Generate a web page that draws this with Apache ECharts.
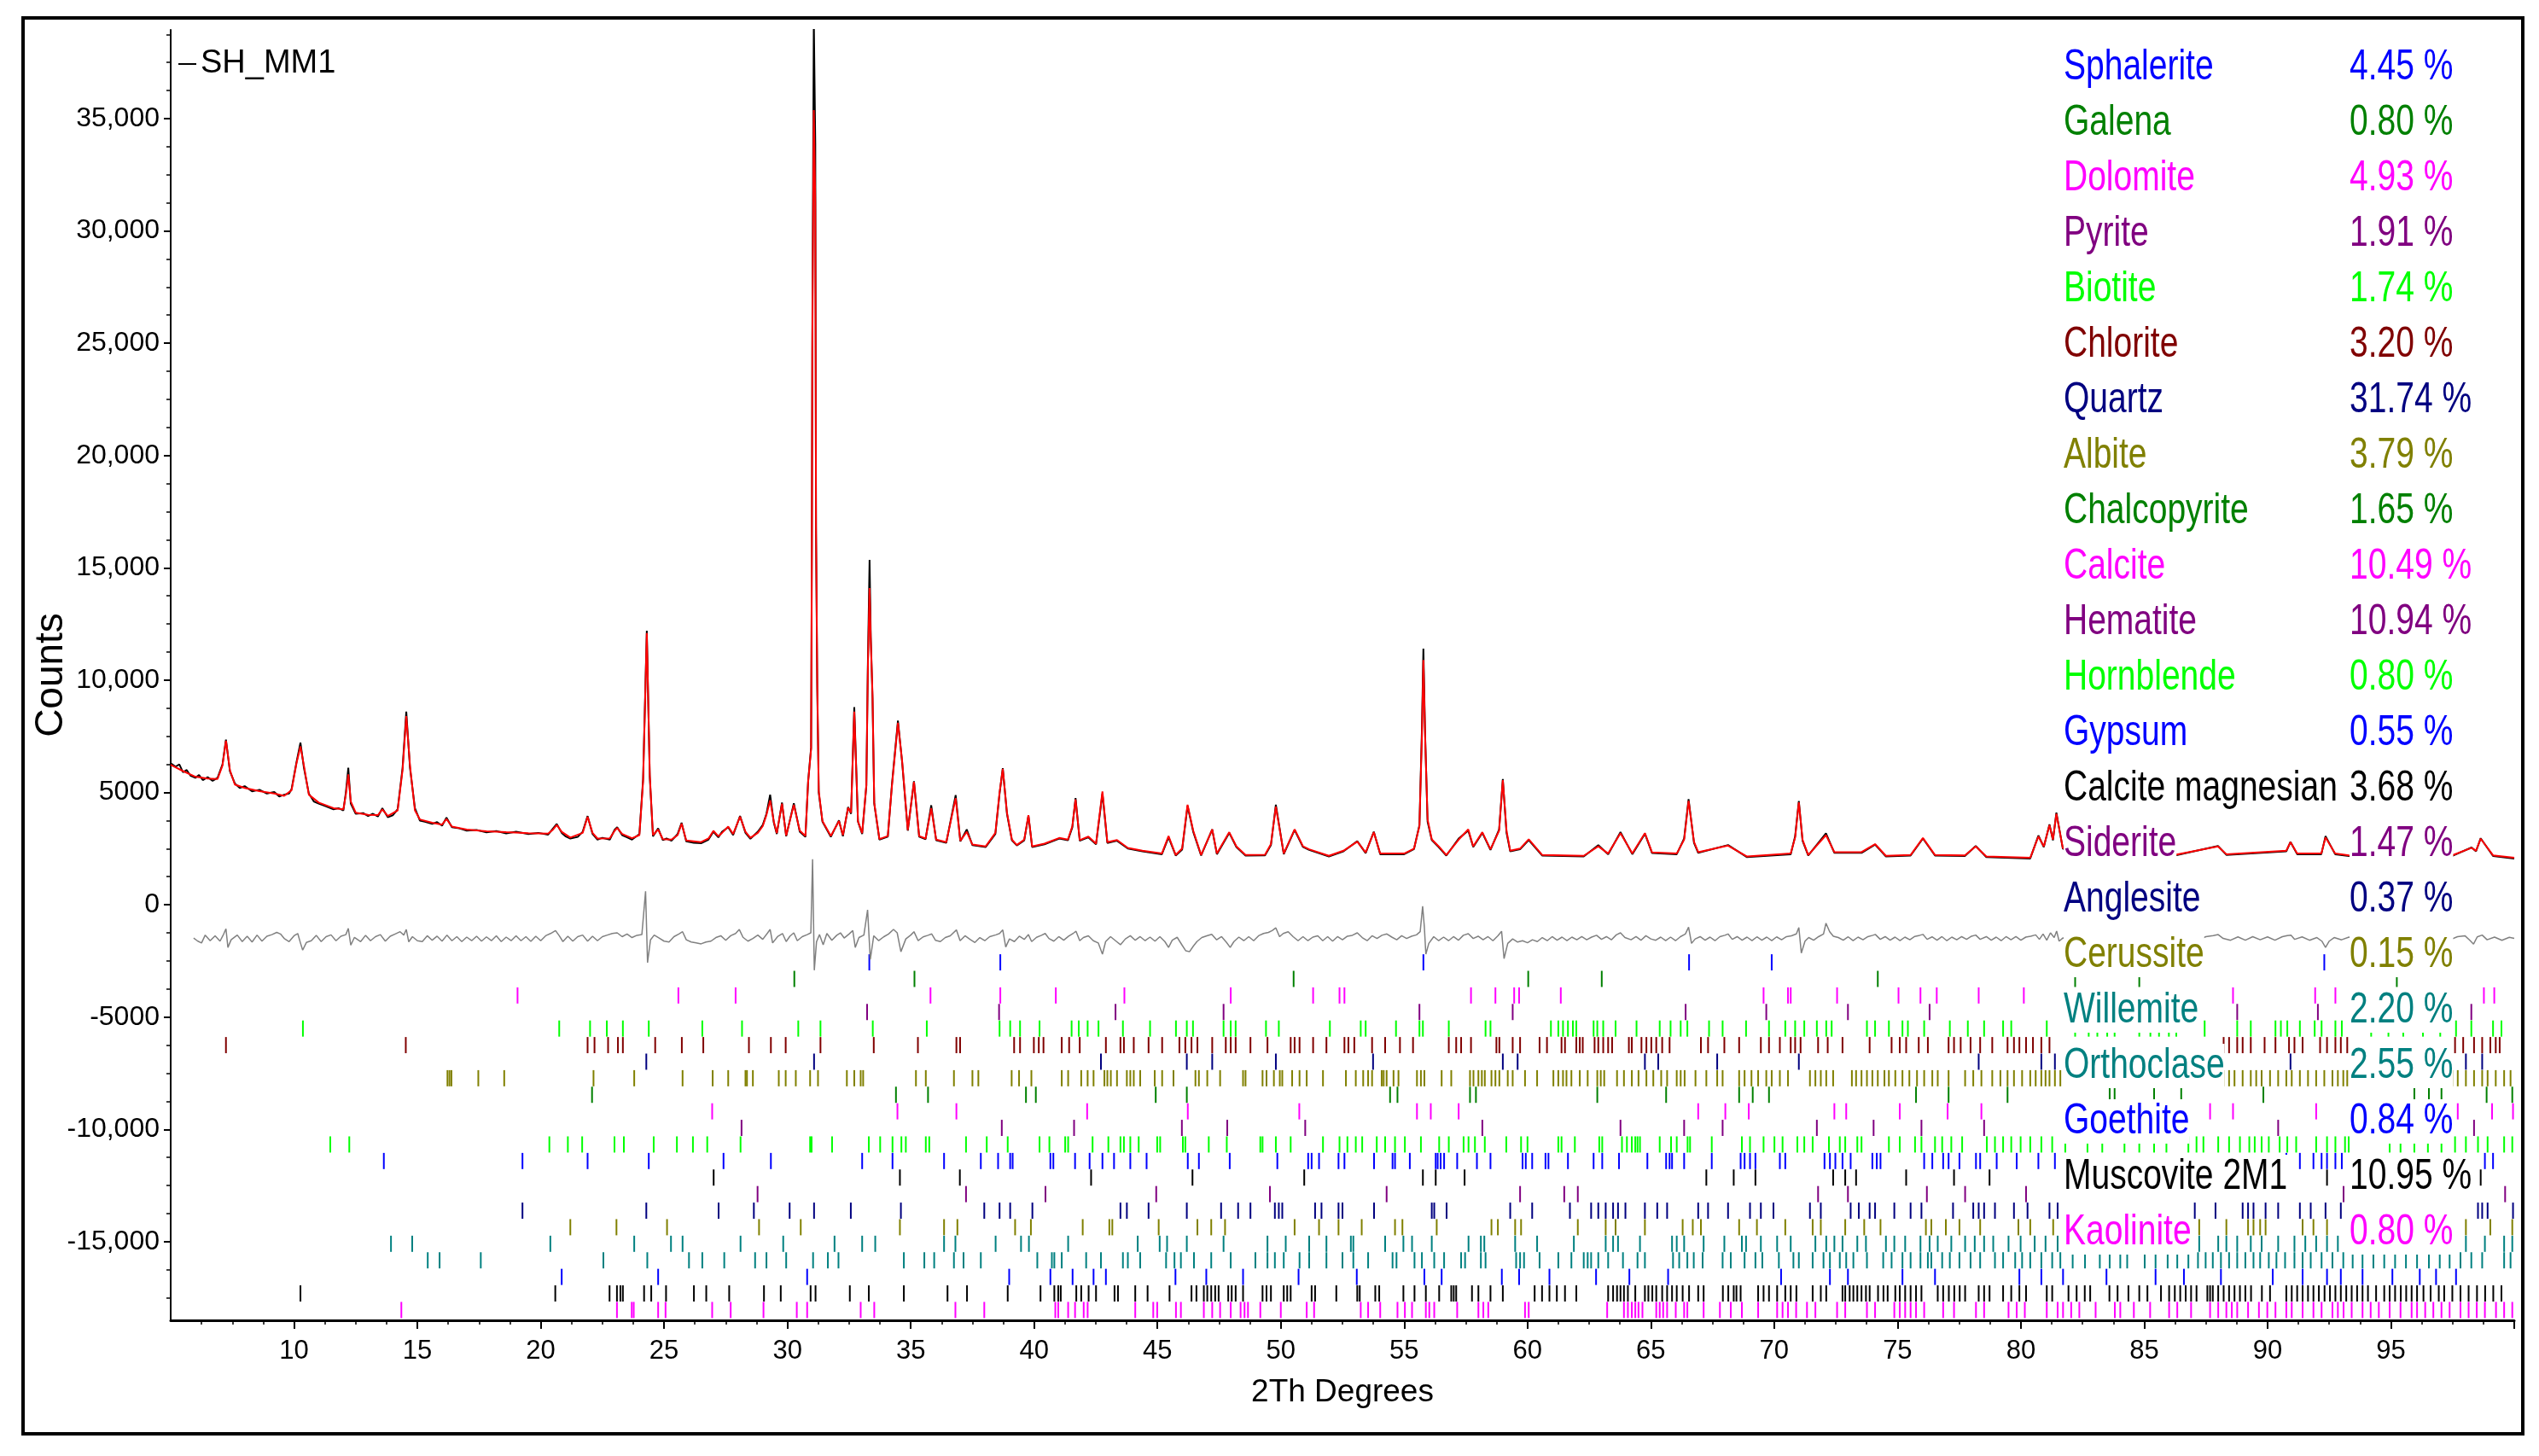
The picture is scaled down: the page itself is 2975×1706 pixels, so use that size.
<!DOCTYPE html>
<html><head><meta charset="utf-8">
<script src="https://cdn.jsdelivr.net/npm/echarts@6.0.0/dist/echarts.min.js"></script>
<style>html,body{margin:0;padding:0;background:#fff}#chart{width:2975px;height:1706px}</style>
</head><body><div id="chart"></div>
<script>
// ---------------- DATA ----------------
const sampleName = 'SH_MM1';
const xTickLabels = [10,15,20,25,30,35,40,45,50,55,60,65,70,75,80,85,90,95];
const xMajorTicks = [10,15,20,25,30,35,40,45,50,55,60,65,70,75,80,85,90,95,100];
const xMinorTicks = [6.25,7.5,8.75,11.25,12.5,13.75,16.25,17.5,18.75,21.25,22.5,23.75,26.25,27.5,28.75,31.25,32.5,33.75,36.25,37.5,38.75,41.25,42.5,43.75,46.25,47.5,48.75,51.25,52.5,53.75,56.25,57.5,58.75,61.25,62.5,63.75,66.25,67.5,68.75,71.25,72.5,73.75,76.25,77.5,78.75,81.25,82.5,83.75,86.25,87.5,88.75,91.25,92.5,93.75,96.25,97.5,98.75];
const yTickValues = [-15000,-10000,-5000,0,5000,10000,15000,20000,25000,30000,35000];
const yTickLabels = ['-15,000','-10,000','-5000','0','5000','10,000','15,000','20,000','25,000','30,000','35,000'];
const yMinorTicks = [-17500,-16250,-13750,-12500,-11250,-8750,-7500,-6250,-3750,-2500,-1250,1250,2500,3750,6250,7500,8750,11250,12500,13750,16250,17500,18750,21250,22500,23750,26250,27500,28750,31250,32500,33750,36250,37500,38750];

const phaseNames = ['Sphalerite','Galena','Dolomite','Pyrite','Biotite','Chlorite','Quartz','Albite','Chalcopyrite','Calcite','Hematite','Hornblende','Gypsum','Calcite magnesian','Siderite','Anglesite','Cerussite','Willemite','Orthoclase','Goethite','Muscovite 2M1','Kaolinite'];
const phasePercents = ['4.45 %','0.80 %','4.93 %','1.91 %','1.74 %','3.20 %','31.74 %','3.79 %','1.65 %','10.49 %','10.94 %','0.80 %','0.55 %','3.68 %','1.47 %','0.37 %','0.15 %','2.20 %','2.55 %','0.84 %','10.95 %','0.80 %'];
const phaseColors = ['#0000ff','#008000','#ff00ff','#800080','#00ff00','#800000','#000080','#808000','#008000','#ff00ff','#800080','#00ff00','#0000ff','#000000','#800080','#000080','#808000','#008080','#008080','#0000ff','#000000','#ff00ff'];

// calculated (red) pattern
const calcCurve = [[5.0,6230],[5.5,5950],[6.0,5700],[6.5,5620],[6.9,5600],[7.1,6200],[7.24,7300],[7.4,6000],[7.6,5350],[8.0,5200],[8.6,5060],[9.2,4950],[9.6,4850],[9.9,5100],[10.1,6300],[10.26,7050],[10.4,6200],[10.6,4900],[11.0,4550],[11.6,4300],[12.0,4250],[12.1,4900],[12.2,5800],[12.3,4600],[12.5,4100],[13.0,4000],[13.4,3990],[13.58,4250],[13.8,3950],[14.2,4200],[14.4,6000],[14.55,8400],[14.7,6200],[14.9,4200],[15.1,3800],[15.6,3650],[16.0,3570],[16.18,3820],[16.4,3480],[17.0,3350],[17.8,3270],[18.6,3230],[19.5,3190],[20.3,3170],[20.5,3350],[20.65,3550],[20.85,3250],[21.2,2990],[21.7,3200],[21.9,3920],[22.1,3200],[22.3,2950],[22.8,2960],[23.0,3300],[23.1,3420],[23.3,3150],[23.7,2960],[24.0,3100],[24.15,5500],[24.3,12100],[24.42,5800],[24.55,3100],[24.76,3350],[24.95,2920],[25.3,2900],[25.55,3100],[25.71,3610],[25.9,2860],[26.5,2790],[26.8,2950],[27.0,3290],[27.2,3050],[27.35,3200],[27.6,3480],[27.8,3150],[28.08,3920],[28.3,3250],[28.5,2980],[28.8,3200],[29.0,3500],[29.15,4000],[29.3,4650],[29.45,3700],[29.57,3190],[29.78,4500],[29.95,3080],[30.26,4450],[30.5,3300],[30.73,3060],[30.84,5470],[30.96,6930],[30.99,15480],[31.01,24830],[31.07,35380],[31.13,31240],[31.16,16815],[31.21,9880],[31.27,5060],[31.42,3725],[31.76,3060],[32.09,3725],[32.25,3100],[32.46,4320],[32.58,4100],[32.71,8600],[32.86,3725],[33.03,3190],[33.2,5330],[33.26,10400],[33.33,14100],[33.38,11740],[33.45,9350],[33.52,4530],[33.73,2925],[34.07,3060],[34.24,5330],[34.48,8100],[34.65,6400],[34.88,3325],[35.13,5470],[35.34,3060],[35.6,2950],[35.83,4300],[36.03,2900],[36.44,2790],[36.82,4750],[37.01,2850],[37.27,3250],[37.5,2680],[38.04,2600],[38.43,3200],[38.6,5000],[38.73,6050],[38.9,4100],[39.1,2900],[39.3,2660],[39.6,2900],[39.77,3990],[39.92,2600],[40.42,2720],[41.02,2975],[41.37,2900],[41.55,3500],[41.68,4690],[41.85,2880],[42.2,3035],[42.51,2720],[42.77,5040],[42.97,2785],[43.36,2880],[43.8,2530],[44.39,2405],[45.18,2280],[45.45,3060],[45.74,2215],[46.0,2500],[46.22,4450],[46.45,3300],[46.77,2215],[47.22,3355],[47.41,2280],[47.91,3230],[48.2,2600],[48.57,2215],[49.36,2230],[49.6,2700],[49.8,4370],[50.12,2280],[50.56,3355],[50.9,2600],[51.15,2470],[51.95,2180],[52.54,2405],[53.1,2810],[53.44,2330],[53.77,3230],[54.03,2280],[55.0,2280],[55.4,2500],[55.62,3500],[55.72,7500],[55.78,10900],[55.85,7500],[55.95,3800],[56.12,2913],[56.4,2600],[56.71,2215],[57.21,2900],[57.6,3355],[57.8,2600],[58.17,3230],[58.5,2470],[58.85,3300],[59.0,5545],[59.15,3300],[59.3,2405],[59.7,2500],[60.05,2913],[60.6,2215],[62.28,2180],[62.87,2600],[63.27,2280],[63.77,3190],[64.25,2280],[64.76,3190],[65.05,2330],[66.05,2280],[66.35,2900],[66.53,4625],[66.75,2800],[66.92,2343],[68.13,2635],[68.9,2150],[70.67,2280],[70.85,3000],[71.0,4560],[71.15,2900],[71.38,2215],[72.1,3100],[72.44,2343],[73.54,2343],[74.09,2700],[74.53,2180],[75.53,2215],[76.03,2975],[76.52,2215],[77.73,2200],[78.17,2600],[78.6,2150],[80.38,2090],[80.71,3040],[80.93,2600],[81.16,3545],[81.3,2900],[81.44,4053],[81.7,2533],[82.5,2250],[84.0,2200],[86.23,2215],[87.99,2600],[88.33,2250],[90.76,2405],[90.93,2786],[91.2,2280],[92.18,2280],[92.35,3000],[92.74,2280],[93.3,2200],[95.0,2180],[97.37,2150],[98.27,2533],[98.45,2400],[98.64,2940],[99.14,2200],[100.0,2090]];

// observed (black) pattern
const obsCurve = [[5.0,6300],[5.2,6150],[5.35,6250],[5.5,5900],[5.65,6000],[5.8,5750],[6.0,5650],[6.15,5780],[6.3,5550],[6.5,5680],[6.7,5520],[6.9,5650],[7.1,6250],[7.24,7350],[7.4,5950],[7.6,5400],[7.8,5200],[8.0,5280],[8.3,5050],[8.6,5120],[8.9,4950],[9.2,5020],[9.4,4820],[9.6,4900],[9.8,4950],[9.9,5150],[10.1,6350],[10.26,7220],[10.4,6100],[10.6,4950],[10.8,4600],[11.0,4500],[11.3,4380],[11.6,4250],[11.8,4300],[12.0,4200],[12.1,5000],[12.2,6100],[12.3,4500],[12.5,4050],[12.8,4080],[13.0,3950],[13.2,4050],[13.4,3930],[13.58,4300],[13.8,3900],[14.0,3980],[14.2,4250],[14.4,6100],[14.55,8600],[14.7,6100],[14.9,4300],[15.1,3750],[15.3,3700],[15.6,3600],[15.8,3680],[16.0,3520],[16.18,3880],[16.4,3450],[16.7,3400],[17.0,3300],[17.4,3330],[17.8,3220],[18.2,3280],[18.6,3180],[19.0,3250],[19.5,3150],[19.9,3200],[20.3,3120],[20.5,3400],[20.65,3600],[20.85,3200],[21.0,3050],[21.2,2950],[21.5,3020],[21.7,3250],[21.9,3950],[22.1,3150],[22.3,2900],[22.5,2980],[22.8,2900],[23.0,3350],[23.1,3450],[23.3,3100],[23.5,3000],[23.7,2900],[24.0,3150],[24.15,5600],[24.3,12200],[24.42,5700],[24.55,3050],[24.76,3400],[24.95,2880],[25.1,2950],[25.3,2850],[25.55,3150],[25.71,3650],[25.9,2820],[26.2,2760],[26.5,2740],[26.8,2900],[27.0,3250],[27.2,3000],[27.35,3250],[27.6,3450],[27.8,3100],[28.08,3950],[28.3,3200],[28.5,2940],[28.8,3250],[29.0,3550],[29.15,4050],[29.3,4900],[29.45,3650],[29.57,3150],[29.78,4550],[29.95,3050],[30.26,4520],[30.5,3250],[30.73,3020],[30.84,5500],[30.96,7000],[30.99,15800],[31.01,25500],[31.07,39500],[31.13,33900],[31.16,16500],[31.21,9600],[31.27,5000],[31.42,3700],[31.76,3020],[32.09,3760],[32.25,3050],[32.46,4350],[32.58,4050],[32.71,8800],[32.86,3700],[33.03,3150],[33.2,5300],[33.26,10600],[33.33,15350],[33.38,11900],[33.45,9200],[33.52,4500],[33.73,2900],[34.07,3030],[34.24,5400],[34.48,8200],[34.65,6350],[34.88,3300],[35.13,5500],[35.34,3030],[35.6,2920],[35.83,4430],[36.03,2870],[36.44,2760],[36.82,4880],[37.01,2820],[37.27,3350],[37.5,2650],[38.04,2570],[38.43,3150],[38.6,4950],[38.73,6080],[38.9,4050],[39.1,2870],[39.3,2640],[39.6,2870],[39.77,3960],[39.92,2570],[40.42,2690],[41.02,2950],[41.37,2870],[41.55,3450],[41.68,4750],[41.85,2850],[42.2,3000],[42.51,2690],[42.77,4950],[42.97,2750],[43.36,2850],[43.8,2500],[44.39,2380],[45.18,2250],[45.45,3000],[45.74,2190],[46.0,2450],[46.22,4400],[46.45,3250],[46.77,2190],[47.22,3350],[47.41,2250],[47.91,3200],[48.2,2570],[48.57,2190],[49.36,2200],[49.6,2650],[49.8,4450],[50.12,2250],[50.56,3330],[50.9,2570],[51.15,2440],[51.95,2150],[52.54,2380],[53.1,2830],[53.44,2300],[53.77,3250],[54.03,2250],[55.0,2250],[55.4,2480],[55.62,3550],[55.72,7800],[55.78,11400],[55.85,7600],[55.95,3700],[56.12,2880],[56.4,2570],[56.71,2190],[57.21,2950],[57.6,3300],[57.8,2570],[58.17,3200],[58.5,2440],[58.85,3350],[59.0,5600],[59.15,3200],[59.3,2380],[59.7,2470],[60.05,2880],[60.6,2190],[62.28,2150],[62.87,2650],[63.27,2250],[63.77,3230],[64.25,2250],[64.76,3160],[65.05,2300],[66.05,2250],[66.35,2950],[66.53,4700],[66.75,2750],[66.92,2310],[68.13,2660],[68.9,2120],[70.67,2250],[70.85,3050],[71.0,4620],[71.15,2850],[71.38,2190],[72.1,3180],[72.44,2310],[73.54,2310],[74.09,2680],[74.53,2150],[75.53,2190],[76.03,2950],[76.52,2190],[77.73,2170],[78.17,2620],[78.6,2120],[80.38,2060],[80.71,3080],[80.93,2570],[81.16,3580],[81.3,2870],[81.44,4100],[81.7,2500],[82.5,2220],[84.0,2170],[86.23,2190],[87.99,2620],[88.33,2220],[90.76,2380],[90.93,2800],[91.2,2250],[92.18,2250],[92.35,3050],[92.74,2250],[93.3,2170],[95.0,2150],[97.37,2120],[98.27,2550],[98.45,2380],[98.64,2960],[99.14,2170],[100.0,2060]];

// difference curve (grey), already drawn at its offset
const diffCurve = [[5.93,-1480],[6.1,-1620],[6.25,-1700],[6.4,-1350],[6.6,-1600],[6.8,-1380],[7.0,-1620],[7.15,-1300],[7.24,-1070],[7.32,-1900],[7.45,-1560],[7.7,-1350],[7.9,-1640],[8.1,-1400],[8.3,-1660],[8.5,-1350],[8.7,-1620],[8.9,-1400],[9.1,-1330],[9.3,-1230],[9.45,-1300],[9.6,-1500],[9.8,-1640],[10.0,-1380],[10.15,-1280],[10.26,-1700],[10.35,-2020],[10.5,-1680],[10.7,-1600],[10.9,-1360],[11.1,-1640],[11.3,-1420],[11.5,-1340],[11.7,-1600],[11.9,-1400],[12.1,-1330],[12.2,-1050],[12.3,-1800],[12.45,-1450],[12.7,-1640],[12.9,-1360],[13.1,-1600],[13.3,-1420],[13.5,-1330],[13.7,-1620],[13.9,-1400],[14.1,-1300],[14.3,-1200],[14.45,-1350],[14.55,-1100],[14.65,-1650],[14.8,-1420],[15.0,-1600],[15.2,-1640],[15.4,-1380],[15.6,-1580],[15.8,-1400],[16.0,-1620],[16.2,-1350],[16.4,-1600],[16.6,-1420],[16.8,-1640],[17.0,-1440],[17.2,-1600],[17.4,-1400],[17.6,-1620],[17.8,-1430],[18.0,-1600],[18.2,-1380],[18.4,-1640],[18.6,-1440],[18.8,-1600],[19.0,-1380],[19.2,-1600],[19.4,-1420],[19.6,-1630],[19.8,-1400],[20.0,-1600],[20.2,-1380],[20.4,-1280],[20.6,-1150],[20.75,-1380],[20.9,-1640],[21.1,-1400],[21.3,-1620],[21.5,-1420],[21.7,-1350],[21.9,-1620],[22.1,-1400],[22.3,-1600],[22.5,-1420],[22.7,-1350],[22.9,-1280],[23.1,-1250],[23.3,-1420],[23.5,-1300],[23.7,-1460],[23.9,-1360],[24.1,-1330],[24.25,600],[24.33,-2580],[24.45,-1560],[24.6,-1350],[24.8,-1480],[25.0,-1620],[25.2,-1660],[25.4,-1420],[25.6,-1300],[25.75,-1200],[25.9,-1560],[26.1,-1660],[26.3,-1700],[26.5,-1740],[26.7,-1660],[26.9,-1620],[27.1,-1460],[27.3,-1380],[27.5,-1580],[27.7,-1380],[27.9,-1280],[28.05,-1100],[28.2,-1450],[28.4,-1620],[28.6,-1500],[28.8,-1350],[29.0,-1540],[29.2,-1250],[29.3,-1100],[29.4,-1700],[29.6,-1420],[29.8,-1280],[29.95,-1640],[30.1,-1400],[30.26,-1250],[30.4,-1600],[30.6,-1420],[30.8,-1330],[30.95,-1250],[31.02,2025],[31.09,-2915],[31.18,-1650],[31.3,-1330],[31.45,-1780],[31.6,-1280],[31.8,-1580],[32.0,-1360],[32.15,-1250],[32.3,-1480],[32.5,-1300],[32.65,-1150],[32.75,-1900],[32.9,-1460],[33.1,-1350],[33.25,-228],[33.36,-2430],[33.5,-1380],[33.7,-1600],[33.9,-1430],[34.1,-1300],[34.3,-1100],[34.45,-1250],[34.6,-2090],[34.8,-1520],[35.0,-1350],[35.13,-1200],[35.3,-1600],[35.5,-1430],[35.7,-1360],[35.85,-1300],[36.0,-1580],[36.2,-1640],[36.4,-1460],[36.6,-1380],[36.85,-1120],[37.0,-1600],[37.2,-1380],[37.4,-1540],[37.6,-1680],[37.8,-1460],[38.0,-1600],[38.2,-1420],[38.45,-1340],[38.6,-1280],[38.73,-1120],[38.85,-1880],[39.0,-1520],[39.2,-1640],[39.4,-1400],[39.6,-1540],[39.77,-1330],[39.9,-1640],[40.1,-1450],[40.3,-1360],[40.45,-1280],[40.6,-1500],[40.8,-1620],[41.0,-1420],[41.2,-1580],[41.4,-1400],[41.6,-1260],[41.7,-1180],[41.85,-1600],[42.0,-1460],[42.2,-1380],[42.4,-1600],[42.6,-1700],[42.77,-2200],[42.9,-1640],[43.1,-1420],[43.3,-1600],[43.5,-1780],[43.7,-1520],[43.9,-1380],[44.1,-1580],[44.3,-1420],[44.5,-1600],[44.7,-1440],[44.9,-1620],[45.1,-1420],[45.3,-1640],[45.45,-1900],[45.6,-1580],[45.8,-1450],[46.0,-1800],[46.15,-2050],[46.3,-2090],[46.45,-1850],[46.6,-1640],[46.8,-1460],[47.0,-1380],[47.2,-1320],[47.4,-1560],[47.6,-1420],[47.8,-1680],[47.95,-1900],[48.1,-1640],[48.3,-1440],[48.5,-1600],[48.7,-1420],[48.9,-1600],[49.1,-1380],[49.3,-1280],[49.5,-1230],[49.65,-1150],[49.8,-1030],[49.95,-1420],[50.1,-1280],[50.3,-1200],[50.5,-1420],[50.7,-1600],[50.9,-1420],[51.1,-1600],[51.3,-1440],[51.5,-1380],[51.7,-1600],[51.9,-1420],[52.1,-1620],[52.3,-1420],[52.5,-1560],[52.7,-1400],[52.9,-1360],[53.1,-1250],[53.3,-1460],[53.5,-1600],[53.7,-1380],[53.9,-1500],[54.1,-1360],[54.3,-1300],[54.5,-1440],[54.7,-1560],[54.9,-1380],[55.1,-1500],[55.3,-1400],[55.5,-1340],[55.65,-1200],[55.75,-63],[55.82,-1000],[55.88,-2200],[56.0,-1720],[56.2,-1420],[56.4,-1600],[56.6,-1440],[56.8,-1600],[57.0,-1420],[57.2,-1580],[57.4,-1360],[57.6,-1290],[57.8,-1500],[58.0,-1400],[58.2,-1560],[58.4,-1420],[58.6,-1600],[58.8,-1380],[58.95,-1180],[59.05,-2400],[59.2,-1720],[59.4,-1520],[59.6,-1660],[59.8,-1600],[60.0,-1690],[60.2,-1560],[60.4,-1640],[60.6,-1460],[60.8,-1600],[61.0,-1420],[61.2,-1580],[61.4,-1440],[61.6,-1600],[61.8,-1440],[62.0,-1560],[62.2,-1420],[62.4,-1560],[62.6,-1440],[62.8,-1360],[63.0,-1540],[63.2,-1420],[63.4,-1560],[63.6,-1340],[63.77,-1250],[63.95,-1460],[64.2,-1560],[64.4,-1420],[64.6,-1580],[64.8,-1380],[65.0,-1520],[65.2,-1580],[65.4,-1440],[65.6,-1600],[65.8,-1440],[66.0,-1600],[66.2,-1420],[66.4,-1300],[66.53,-1000],[66.65,-1720],[66.8,-1520],[67.0,-1420],[67.2,-1580],[67.4,-1440],[67.6,-1600],[67.8,-1420],[68.0,-1360],[68.13,-1300],[68.3,-1540],[68.5,-1420],[68.7,-1580],[68.9,-1440],[69.1,-1600],[69.3,-1430],[69.5,-1580],[69.7,-1440],[69.9,-1600],[70.1,-1430],[70.3,-1560],[70.5,-1420],[70.7,-1380],[70.9,-1300],[71.0,-1013],[71.1,-2150],[71.25,-1620],[71.4,-1460],[71.6,-1580],[71.8,-1420],[72.0,-1300],[72.1,-823],[72.25,-1200],[72.4,-1400],[72.6,-1460],[72.8,-1580],[73.0,-1430],[73.2,-1600],[73.4,-1440],[73.6,-1560],[73.8,-1420],[74.0,-1360],[74.1,-1320],[74.3,-1540],[74.5,-1420],[74.7,-1580],[74.9,-1440],[75.1,-1600],[75.3,-1440],[75.5,-1560],[75.7,-1410],[75.9,-1360],[76.03,-1320],[76.2,-1540],[76.4,-1430],[76.6,-1580],[76.8,-1420],[77.0,-1600],[77.2,-1440],[77.4,-1560],[77.6,-1420],[77.8,-1540],[78.0,-1400],[78.17,-1350],[78.35,-1540],[78.6,-1420],[78.8,-1580],[79.0,-1440],[79.2,-1600],[79.4,-1420],[79.6,-1560],[79.8,-1420],[80.0,-1580],[80.2,-1440],[80.4,-1400],[80.6,-1340],[80.75,-1540],[80.9,-1300],[81.05,-1580],[81.2,-1250],[81.35,-1460],[81.45,-1170],[81.55,-1620],[81.7,-1480],[82.0,-1520],[83.0,-1460],[84.0,-1520],[85.0,-1460],[86.0,-1520],[86.3,-1420],[86.6,-1580],[86.9,-1430],[87.2,-1560],[87.5,-1420],[87.8,-1370],[88.0,-1330],[88.2,-1500],[88.5,-1580],[88.8,-1430],[89.1,-1580],[89.4,-1420],[89.7,-1560],[90.0,-1430],[90.3,-1580],[90.6,-1420],[90.8,-1370],[90.95,-1350],[91.1,-1540],[91.4,-1430],[91.7,-1580],[92.0,-1460],[92.2,-1620],[92.35,-1900],[92.5,-1620],[92.7,-1460],[93.0,-1560],[93.3,-1440],[94.0,-1520],[95.0,-1460],[96.0,-1520],[97.0,-1460],[97.4,-1560],[97.7,-1420],[98.0,-1380],[98.2,-1580],[98.35,-1750],[98.5,-1430],[98.7,-1350],[98.9,-1560],[99.2,-1440],[99.5,-1580],[99.8,-1450],[100.0,-1500]];

// reflection positions (2Th) of each phase
const sphaleriteTicks = [33.32,38.63,55.78,66.55,69.9,92.3];
const galenaTicks = [30.28,35.15,50.52,60.03,63.01,74.2,82.2,84.8,95.24];
const dolomiteTicks = [19.06,25.58,27.9,35.8,38.63,40.88,43.66,47.97,51.31,52.38,52.58,57.71,58.7,59.46,59.66,61.35,69.57,70.56,70.67,72.55,75.04,75.93,76.59,78.29,80.12,88.6,91.93,92.75,98.77,99.19];
const pyriteTicks = [33.23,38.58,43.3,47.68,55.62,59.4,66.41,69.68,72.99,76.3,88.77,92.04,98.26];
const biotiteTicks = [10.36,20.75,22.0,22.68,23.33,24.38,26.55,28.16,30.44,31.34,33.46,35.65,38.6,39.03,39.43,40.22,41.52,41.81,42.17,42.61,43.6,44.7,45.75,46.19,46.44,47.68,47.97,48.17,49.4,49.92,51.99,53.24,53.44,54.67,55.62,55.76,56.81,58.3,58.5,60.95,61.25,61.44,61.64,61.84,61.98,62.68,62.83,63.07,63.57,64.42,65.36,65.8,66.21,66.48,67.36,67.91,68.86,69.79,70.45,70.85,71.22,71.73,72.11,72.33,73.76,74.09,74.65,75.2,75.42,76.08,77.12,77.85,78.51,79.28,79.61,81.05,82.2,82.75,83.1,83.5,83.8,84.8,85.25,85.6,86.0,86.3,87.45,88.77,89.32,90.32,90.54,90.8,91.31,91.91,92.19,92.75,93.01,94.2,94.9,95.5,96.3,97.0,97.64,98.26,99.14,99.48];
const chloriteTicks = [7.24,14.53,21.9,22.18,22.73,23.13,23.33,24.64,25.72,26.59,28.44,29.33,29.93,31.34,33.5,35.29,36.85,37.0,39.19,39.43,39.99,40.19,40.38,41.12,41.42,41.85,42.91,43.5,43.64,44.04,44.64,45.19,45.89,46.13,46.38,46.62,47.22,47.77,47.97,48.17,48.77,49.46,50.4,50.56,50.76,51.31,51.85,52.58,52.74,52.98,53.7,54.23,54.83,55.36,56.81,57.11,57.31,57.71,58.74,58.86,59.4,59.7,60.49,60.79,61.38,61.52,61.98,62.12,62.24,62.72,62.87,63.07,63.27,63.43,64.11,64.23,64.62,64.82,65.02,65.22,65.46,65.76,67.03,67.32,67.98,68.58,69.46,69.79,70.23,70.67,70.85,71.07,71.78,72.17,72.77,73.87,74.76,75.09,75.35,75.86,76.23,77.07,77.29,77.56,77.96,78.35,78.84,79.46,79.72,79.94,80.21,80.49,80.83,81.16,88.22,88.44,88.77,88.99,89.32,89.88,90.32,90.87,91.09,91.42,92.13,92.41,92.75,92.97,93.23,97.6,97.93,98.37,98.7,99.03,99.25,99.41];
const quartzTicks = [24.28,31.08,42.71,46.19,47.22,49.8,53.74,59.0,59.6,64.76,65.3,67.69,71.0,78.29,80.83,81.38,90.93,98.04,98.7];
const albiteTicks = [16.22,16.3,16.38,17.47,18.52,22.14,23.79,25.75,26.97,27.6,28.3,28.36,28.6,29.65,29.93,30.34,30.92,31.24,32.41,32.71,32.97,33.07,35.21,35.61,36.75,37.5,37.74,39.09,39.39,39.89,41.12,41.38,41.91,42.17,42.41,42.85,42.97,43.11,43.36,43.76,43.9,44.04,44.3,44.89,45.19,45.65,46.54,46.68,47.02,47.54,48.47,48.57,49.26,49.42,49.72,49.96,50.06,50.46,50.76,51.05,51.71,52.64,53.04,53.34,53.54,53.7,54.09,54.17,54.29,54.57,54.77,55.52,55.68,55.82,56.52,56.91,57.67,57.81,58.01,58.15,58.27,58.54,58.7,58.86,59.2,59.4,59.9,60.39,61.05,61.25,61.44,61.58,61.78,62.12,62.44,62.83,62.97,63.11,63.63,63.91,64.23,64.5,64.82,65.1,65.42,65.66,66.05,66.21,66.37,66.81,67.25,67.69,67.91,68.58,68.8,69.08,69.35,69.68,69.9,70.23,70.56,71.45,71.67,71.89,72.11,72.39,73.15,73.32,73.54,73.76,73.98,74.2,74.47,74.65,74.91,75.2,75.48,75.79,76.08,76.41,76.63,77.07,77.74,78.07,78.4,78.84,79.17,79.46,79.72,80.05,80.38,80.6,80.83,81.0,81.16,81.38,81.6,88.22,88.44,88.66,88.99,89.32,89.54,89.76,90.1,90.43,90.76,90.98,91.31,91.64,91.97,92.3,92.63,92.85,93.07,93.23,97.49,97.71,98.04,98.37,98.7,98.92,99.25,99.59,99.85];
const chalcopyriteTicks = [22.08,34.4,35.7,39.67,40.07,44.93,46.19,54.43,54.73,57.67,57.91,62.83,65.62,68.58,69.13,69.79,75.75,77.07,79.46,83.6,83.8,85.4,86.5,89.83,95.95,96.54,97.05,98.88,99.92];
const calciteTicks = [26.95,34.46,36.85,42.15,46.23,50.75,55.52,56.08,57.21,66.92,68.02,68.97,72.44,72.92,75.09,77.03,78.4,87.67,88.6,91.97,97.71,99.1,99.95];
const hematiteTicks = [28.14,38.69,41.62,45.99,47.83,50.99,58.17,63.77,66.35,67.91,71.73,74.03,75.97,78.51,90.43,98.37];
const hornblendeTicks = [11.47,12.24,20.35,21.1,21.68,22.99,23.37,24.58,25.52,26.17,26.75,28.1,30.92,30.98,31.81,33.3,33.76,34.26,34.62,34.8,35.61,35.75,37.24,38.08,38.93,40.22,40.62,41.26,41.38,42.37,43.01,43.5,43.64,43.9,44.24,44.99,45.11,46.03,46.13,47.08,47.81,49.17,49.26,49.8,50.4,51.71,52.38,52.7,53.04,53.3,53.89,54.23,54.63,55.03,55.68,56.42,56.81,57.41,57.61,57.87,58.27,59.14,59.74,60.0,61.25,61.38,61.92,62.91,63.03,63.83,64.03,64.23,64.37,64.46,64.56,65.36,65.82,66.05,66.49,66.59,67.47,68.69,69.02,69.57,70.01,70.34,70.94,71.22,71.56,72.22,72.66,72.88,73.37,73.54,74.65,75.09,75.71,75.97,76.52,76.81,77.18,77.62,78.62,78.95,79.28,79.61,79.99,80.38,80.83,81.27,81.8,82.7,83.3,84.2,84.8,85.4,85.9,86.79,87.12,87.4,88.0,88.44,88.88,89.26,89.48,89.76,90.05,90.49,90.8,91.16,91.97,92.41,92.75,93.14,93.29,94.95,95.39,95.95,96.5,97.05,97.6,98.04,98.53,98.92,99.59,99.92];
const gypsumTicks = [13.64,19.26,21.9,24.38,27.41,29.33,33.03,34.26,36.35,37.84,38.54,39.03,39.13,40.66,40.78,41.66,42.25,42.77,43.24,43.9,44.56,46.23,46.68,47.93,49.86,51.11,51.25,51.55,52.34,52.58,53.78,54.53,54.63,55.23,56.28,56.36,56.48,56.62,57.15,57.95,58.5,59.8,59.93,60.19,60.73,60.85,61.64,62.68,63.03,63.71,64.86,65.62,65.76,65.86,66.35,67.47,68.64,68.8,69.02,69.24,70.23,70.45,72.04,72.26,72.48,72.77,73.1,73.98,74.16,74.31,76.08,76.41,76.85,77.07,77.51,78.18,78.35,79.02,79.83,80.71,81.38,90.76,91.31,91.86,92.19,92.41,92.75,93.01,98.81,99.14];
const calciteMgTicks = [27.01,34.56,36.99,42.31,46.42,50.95,55.76,56.28,57.45,67.25,68.36,69.24,72.39,72.88,73.32,75.35,77.29,78.73,92.41,98.64];
const sideriteTicks = [28.79,37.24,40.46,44.95,49.56,54.29,59.7,61.49,62.04,71.78,72.99,76.19,77.74,80.21,93.08,99.63];
const anglesiteTicks = [19.26,24.28,27.21,28.64,30.09,31.08,32.57,34.6,37.98,38.6,39.03,39.93,43.5,43.76,44.64,46.19,47.58,48.27,48.77,49.76,49.92,50.06,51.39,51.65,52.34,52.5,53.78,56.12,56.22,56.72,59.3,60.19,61.72,62.58,62.87,63.17,63.47,63.67,63.97,64.76,65.26,65.66,66.92,67.32,68.13,69.02,69.46,69.97,71.45,71.89,73.1,73.43,73.87,74.09,74.87,75.53,75.97,77.25,78.07,78.29,78.51,78.95,79.72,80.27,81.16,81.49,87.05,87.89,88.99,89.21,89.43,89.92,90.43,91.31,91.75,92.35,92.97,98.53,98.7,98.92,99.95];
const cerussiteTicks = [21.2,23.07,25.12,28.85,30.54,34.56,36.35,36.89,39.23,39.87,41.97,43.05,43.17,45.05,46.62,47.18,47.74,50.56,51.55,52.34,53.28,54.63,54.93,56.32,58.54,58.8,59.5,59.74,62.04,63.17,63.57,64.76,66.29,66.7,67.03,68.58,69.3,70.45,71.56,71.89,72.88,73.65,74.31,76.15,76.37,76.96,77.51,78.35,79.9,80.38,81.31,87.23,88.33,89.21,89.43,89.7,89.92,91.42,91.86,92.41,98.04,99.03,99.92];
const willemiteTicks = [13.93,14.79,20.39,23.79,25.28,25.75,28.1,29.83,31.91,33.03,33.56,36.35,36.81,38.44,39.47,39.79,41.38,44.2,45.09,45.39,46.19,47.68,49.46,50.2,51.15,51.85,52.84,52.94,54.23,54.97,55.32,56.12,57.61,58.11,58.25,59.5,60.39,61.88,63.17,63.47,63.67,64.56,65.86,66.05,66.35,67.14,67.98,68.69,68.86,69.46,70.12,70.67,71.67,72.11,72.44,72.77,73.37,73.72,74.53,74.87,75.31,75.93,76.3,76.63,77.18,77.74,78.13,78.51,78.88,79.5,79.99,80.56,81.0,81.49,87.23,88.0,88.33,88.77,89.32,89.76,90.43,91.09,91.53,91.97,92.41,92.85,98.04,98.81,99.59,99.92];
const orthoclaseTicks = [15.42,15.9,17.57,22.54,24.32,26.01,26.55,27.44,28.69,29.15,29.95,31.04,31.64,32.07,34.72,35.55,35.95,36.75,37.14,37.84,40.13,40.72,40.82,41.12,42.11,42.71,43.6,43.8,44.3,45.35,45.69,45.95,46.48,47.18,47.97,48.97,49.46,49.76,50.12,50.76,51.15,51.85,52.5,52.94,53.54,54.53,54.69,55.42,55.72,56.22,56.62,57.31,57.47,58.11,58.3,59.54,59.7,59.86,60.49,61.25,61.78,62.28,62.44,62.58,62.87,63.27,63.87,64.46,64.76,65.9,66.15,66.48,66.74,67.1,67.91,68.24,68.8,69.24,69.52,70.19,70.78,71.0,71.56,72.0,72.26,72.66,72.92,73.21,73.76,74.42,74.76,75.2,75.53,75.93,76.23,76.37,76.81,77.12,77.51,77.96,78.35,78.95,79.28,79.77,80.05,80.38,80.83,81.27,81.6,82.1,82.6,83.2,83.6,84.03,84.31,85.02,85.46,85.95,86.34,86.79,87.18,87.49,87.78,88.11,88.44,88.77,89.1,89.43,89.7,90.05,90.36,90.71,91.09,91.42,91.75,92.19,92.63,93.07,93.45,93.85,94.29,94.73,95.17,95.61,96.06,96.54,96.98,97.38,97.82,98.26,98.7,99.59,99.85];
const goethiteTicks = [20.85,24.76,30.8,38.99,40.66,41.56,42.41,42.91,45.73,46.98,48.47,50.72,53.08,55.82,56.52,58.96,59.66,60.89,62.78,64.13,65.7,70.28,72.26,72.99,75.2,76.52,79.94,80.83,81.71,83.47,85.46,86.61,88.11,90.21,91.42,92.41,92.97,93.85,95.06,96.17,96.83,97.64];
const muscoviteTicks = [10.26,20.59,22.79,23.09,23.23,23.33,24.19,24.48,25.08,26.21,26.71,27.64,29.05,29.73,30.94,31.14,32.53,33.3,34.72,36.49,37.28,38.93,40.26,40.82,40.98,41.08,41.71,41.91,42.21,42.51,43.26,43.4,44.1,44.6,45.49,46.38,46.58,46.88,47.02,47.18,47.34,47.48,47.87,48.01,48.17,48.47,49.26,49.42,49.6,50.12,50.26,50.4,51.25,51.39,52.25,53.1,53.2,53.83,53.99,54.97,55.42,55.88,56.42,56.91,57.01,57.11,57.75,58.01,58.5,59.0,60.29,60.59,60.89,61.19,61.52,61.98,63.27,63.47,63.63,63.77,63.91,64.07,64.37,64.76,64.9,65.06,65.22,65.46,65.66,65.86,66.05,66.29,66.55,66.92,67.14,67.92,68.14,68.36,68.47,68.64,69.35,69.57,69.79,70.12,70.45,70.67,70.9,71.56,71.89,72.11,72.77,72.88,73.06,73.21,73.37,73.54,73.72,73.87,74.21,74.43,74.6,74.91,75.09,75.31,75.53,75.75,75.97,76.63,76.85,77.08,77.3,77.52,77.74,78.29,78.51,78.73,79.28,79.61,79.94,80.21,81.05,81.27,81.93,82.26,82.59,82.81,83.59,83.92,84.36,84.8,85.13,85.68,86.01,86.24,86.46,86.68,86.9,87.12,87.56,87.67,87.78,88.0,88.22,88.44,88.66,88.88,89.1,89.33,89.77,90.1,90.76,90.98,91.2,91.42,91.64,91.86,92.08,92.31,92.53,92.75,92.97,93.19,93.41,93.63,93.85,94.07,94.4,94.73,94.95,95.17,95.4,95.62,95.84,96.06,96.32,96.61,96.94,97.16,97.49,97.82,98.15,98.49,98.82,99.15,99.48];
const kaoliniteTicks = [14.35,23.09,23.69,23.77,24.76,25.06,26.95,27.7,29.03,30.38,30.8,32.97,33.52,36.81,37.98,40.86,40.98,41.38,41.66,42.01,42.17,44.1,44.83,44.99,45.75,45.95,46.88,47.22,47.54,47.97,48.37,48.53,48.67,49.17,50.0,51.05,51.35,53.24,53.54,54.03,54.73,55.03,55.32,55.88,56.02,56.22,57.15,58.01,58.21,58.41,59.9,60.05,63.23,63.91,64.07,64.23,64.37,64.5,64.66,65.22,65.36,65.5,65.66,66.01,66.35,66.48,67.14,67.8,68.24,68.69,69.35,70.12,70.34,70.56,70.89,71.33,71.67,72.55,72.88,73.76,74.09,74.87,75.09,75.31,75.53,75.75,76.08,76.85,77.29,78.18,78.51,79.5,79.83,80.16,81.05,81.49,81.71,82.04,82.37,83.03,83.81,84.03,84.58,85.24,86.01,86.34,86.9,87.67,88.0,88.33,88.55,88.77,89.21,89.65,89.99,90.32,90.76,90.98,91.42,91.86,92.19,92.63,92.85,93.08,93.41,93.85,94.18,94.51,94.95,95.39,95.84,96.06,96.39,96.72,97.05,97.38,97.82,98.15,98.48,98.81,99.26,99.59,99.92];

const phaseTicks = [sphaleriteTicks,galenaTicks,dolomiteTicks,pyriteTicks,biotiteTicks,chloriteTicks,quartzTicks,albiteTicks,chalcopyriteTicks,calciteTicks,hematiteTicks,hornblendeTicks,gypsumTicks,calciteMgTicks,sideriteTicks,anglesiteTicks,cerussiteTicks,willemiteTicks,orthoclaseTicks,goethiteTicks,muscoviteTicks,kaoliniteTicks];

// ---------------- LAYOUT / STYLE ----------------
function fontAvailable(name){
  const ctx=document.createElement('canvas').getContext('2d');
  const s='abcdefghijklmnopqrstuvwxyz0123456789';
  ctx.font='40px monospace'; const a=ctx.measureText(s).width;
  ctx.font='40px "'+name+'", monospace'; const b=ctx.measureText(s).width;
  return a!==b;
}
const NARROW = fontAvailable('Liberation Sans Narrow');
const AX_FONT = NARROW ? '"Liberation Sans Narrow"' : '"Liberation Sans"';
const S = NARROW ? {yl:36, xl:36, name:44, yname:52, leg:45} : {yl:32, xl:31, name:37, yname:46, leg:38};

const ROW_TOP0 = -2204, ROW_STEP = 737, ROW_LEN = 720;

const tickSeries = phaseTicks.map((ticks, i) => {
  const top = ROW_TOP0 - i*ROW_STEP;
  const color = phaseColors[i];
  return {
    name: phaseNames[i], type:'custom', coordinateSystem:'cartesian2d', silent:true, animation:false, z:2,
    data: ticks.map(x => [x, top]),
    renderItem: (params, api) => {
      const p1 = api.coord([api.value(0), api.value(1)]);
      const p2 = api.coord([api.value(0), api.value(1) - ROW_LEN]);
      return {type:'line', shape:{x1:p1[0], y1:p1[1], x2:p2[0], y2:p2[1]}, style:{stroke:color, lineWidth:2}};
    }
  };
});

const elements = [];
elements.push({type:'rect', z:200, shape:{x:27, y:21, width:2929, height:1659}, style:{fill:'none', stroke:'#000', lineWidth:4}});
phaseNames.forEach((n, i) => {
  const y = 79 + 65*i;
  elements.push({type:'text', z:100, x:2418, y:y, scaleX:0.78, style:{text:n, fill:phaseColors[i], font:'50px "Liberation Sans"', verticalAlign:'middle', align:'left', backgroundColor:'#fff', lineHeight:52}});
  elements.push({type:'text', z:100, x:2753, y:y, scaleX:0.78, style:{text:phasePercents[i], fill:phaseColors[i], font:'50px "Liberation Sans"', verticalAlign:'middle', align:'left', backgroundColor:'#fff', lineHeight:52}});
});

const chart = echarts.init(document.getElementById('chart'), null, {renderer:'canvas'});
chart.setOption({
  animation:false,
  backgroundColor:'#fff',
  grid:{left:200, right:29, top:35, bottom:159, containLabel:false},
  legend:{data:[sampleName], left:209, top:56, padding:0, icon:'rect', itemWidth:21, itemHeight:2, selectedMode:false,
    textStyle:{color:'#000', fontFamily:AX_FONT, fontSize:S.leg, lineHeight:S.leg}},
  xAxis:[{
    type:'value', min:5, max:100, position:'bottom',
    axisLine:{show:true, onZero:false, lineStyle:{color:'#000', width:3}},
    axisTick:{show:true, length:10, customValues:xMajorTicks, lineStyle:{color:'#000', width:2}},
    axisLabel:{customValues:xTickLabels, margin:21, color:'#000', fontFamily:AX_FONT, fontSize:S.xl},
    splitLine:{show:false},
    name:'2Th Degrees', nameLocation:'middle', nameGap:66, nameMoveOverlap:false,
    nameTextStyle:{color:'#000', fontFamily:AX_FONT, fontSize:S.name}
  },{
    type:'value', min:5, max:100, position:'bottom',
    axisLine:{show:false, onZero:false},
    axisTick:{show:true, length:5, customValues:xMinorTicks, lineStyle:{color:'#000', width:1.5}},
    axisLabel:{show:false}, splitLine:{show:false}
  }],
  yAxis:[{
    type:'value', min:-18500, max:38950, position:'left',
    axisLine:{show:true, onZero:false, lineStyle:{color:'#000', width:2}},
    axisTick:{show:true, length:8, customValues:yTickValues, lineStyle:{color:'#000', width:2}},
    axisLabel:{customValues:yTickValues, margin:13, color:'#000', fontFamily:AX_FONT, fontSize:S.yl,
      formatter:(v) => yTickLabels[yTickValues.indexOf(v)]},
    splitLine:{show:false},
    name:'Counts', nameLocation:'middle', nameGap:117, nameRotate:90, nameMoveOverlap:false,
    nameTextStyle:{color:'#000', fontFamily:AX_FONT, fontSize:S.yname}
  },{
    type:'value', min:-18500, max:38950, position:'left',
    axisLine:{show:false, onZero:false},
    axisTick:{show:true, length:5, customValues:yMinorTicks, lineStyle:{color:'#000', width:1.5}},
    axisLabel:{show:false}, splitLine:{show:false}
  }],
  graphic:{elements:elements},
  series:[
    {name:'difference', type:'line', data:diffCurve, showSymbol:false, symbol:'none', clip:true, z:3,
      lineStyle:{color:'#808080', width:1.5}},
    {name:sampleName, type:'line', data:obsCurve, showSymbol:false, symbol:'none', clip:true, z:4,
      itemStyle:{color:'#000'}, lineStyle:{color:'#000', width:2}},
    {name:'calculated', type:'line', data:calcCurve, showSymbol:false, symbol:'none', clip:true, z:5,
      lineStyle:{color:'#ff0000', width:2}}
  ].concat(tickSeries)
});
</script></body></html>
